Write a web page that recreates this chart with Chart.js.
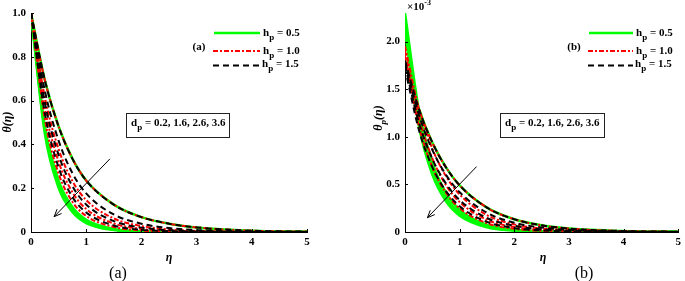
<!DOCTYPE html>
<html>
<head>
<meta charset="utf-8">
<script src="https://cdn.jsdelivr.net/npm/chart.js@4.4.0/dist/chart.umd.min.js"></script>
<style>
body{margin:0;width:685px;height:281px;position:relative;background:#fff;overflow:hidden;font-family:"Liberation Serif","Times New Roman",serif;color:#000;}
canvas{position:absolute;top:0;}
.t{position:absolute;font-weight:bold;font-size:11px;white-space:nowrap;line-height:1;}
.t sub{font-size:9px;vertical-align:-4px;line-height:0;}
.t sup{font-size:8px;vertical-align:5px;line-height:0;}
.c{transform:translate(-50%,-50%);}
.rot{transform:translate(-50%,-50%) rotate(-90deg);font-style:italic;font-size:12px;}
.cap{position:absolute;font-size:16px;transform:translate(-50%,-50%);white-space:nowrap;}
.box{position:absolute;border:1.3px solid #222;box-sizing:border-box;background:#fff;}
</style>
</head>
<body>
<canvas id="chartA" width="340" height="281" style="left:0"></canvas>
<canvas id="chartB" width="342" height="281" style="left:343px"></canvas>

<div class="t rot" style="left:7px;top:122px">θ(η)</div>
<div class="t c" style="left:169px;top:257px;font-style:italic;font-size:12px">η</div>
<div class="cap" style="left:118px;top:273px">(a)</div>
<div class="t c" style="left:199px;top:46px">(a)</div>
<div class="t" style="left:263px;top:27px">h<sub>p</sub> = 0.5</div>
<div class="t" style="left:263px;top:45px">h<sub>p</sub> = 1.0</div>
<div class="t" style="left:262px;top:58px">h<sub>p</sub> = 1.5</div>
<div class="box" style="left:126px;top:113px;width:104px;height:25px"></div>
<div class="t" style="left:131px;top:117px">d<sub>p</sub> = 0.2, 1.6, 2.6, 3.6</div>

<div class="t rot" style="left:378px;top:118px">θ<sub>p</sub>(η)</div>
<div class="t" style="left:407px;top:1px">×10<sup>-3</sup></div>
<div class="t c" style="left:543px;top:257px;font-style:italic;font-size:12px">η</div>
<div class="cap" style="left:584px;top:273px">(b)</div>
<div class="t c" style="left:574px;top:46px">(b)</div>
<div class="t" style="left:636px;top:27px">h<sub>p</sub> = 0.5</div>
<div class="t" style="left:636px;top:45px">h<sub>p</sub> = 1.0</div>
<div class="t" style="left:635px;top:58px">h<sub>p</sub> = 1.5</div>
<div class="box" style="left:500px;top:113px;width:105px;height:25px"></div>
<div class="t" style="left:505px;top:117px">d<sub>p</sub> = 0.2, 1.6, 2.6, 3.6</div>

<script>
// eta grid (x values)
const eta = [0, 0.25, 0.5, 0.75, 1, 1.5, 2, 2.5, 3, 4, 5];

// (a) theta(eta), d_p = 0.2 curve is the same for every h_p
const thA_d02     = [1, 0.694, 0.482, 0.335, 0.235, 0.125, 0.068, 0.038, 0.021, 0.006, 0.0015];
const thA_h15_d16 = [1, 0.646, 0.417, 0.269, 0.176, 0.080, 0.038, 0.018, 0.009, 0.002, 0.0005];
const thA_h10_d16 = [1, 0.616, 0.379, 0.233, 0.146, 0.062, 0.027, 0.012, 0.005, 0.001, 0.0002];
const thA_h15_d26 = [1, 0.593, 0.352, 0.209, 0.126, 0.050, 0.020, 0.008, 0.003, 0.0005, 0.0001];
const thA_h10_d26 = [1, 0.567, 0.321, 0.182, 0.105, 0.039, 0.014, 0.005, 0.002, 0.0003, 0];
const thA_h15_d36 = [1, 0.543, 0.295, 0.160, 0.089, 0.030, 0.010, 0.0035, 0.0012, 0.0002, 0];
const thA_h10_d36 = [1, 0.517, 0.267, 0.138, 0.073, 0.023, 0.007, 0.002, 0.0007, 0.0001, 0];
const thA_h05_d16 = [1, 0.484, 0.235, 0.114, 0.056, 0.014, 0.0035, 0.0009, 0.0002, 0, 0];
const thA_h05_d26 = [1, 0.467, 0.218, 0.102, 0.048, 0.011, 0.0025, 0.0006, 0.0001, 0, 0];
const thA_h05_d36 = [1, 0.449, 0.202, 0.091, 0.041, 0.0085, 0.0018, 0.0004, 0.0001, 0, 0];

// (b) theta_p(eta), in units of 1e-3
const thB_d02     = [1.80, 1.30, 0.94, 0.679, 0.49, 0.256, 0.134, 0.070, 0.036, 0.010, 0.003];
const thB_h15_d16 = [1.78, 1.24, 0.862, 0.600, 0.418, 0.202, 0.098, 0.047, 0.023, 0.005, 0.001];
const thB_h10_d16 = [1.95, 1.307, 0.876, 0.587, 0.394, 0.177, 0.080, 0.036, 0.016, 0.003, 0.001];
const thB_h15_d26 = [1.75, 1.159, 0.767, 0.508, 0.336, 0.147, 0.065, 0.028, 0.012, 0.002, 0];
const thB_h10_d26 = [1.90, 1.212, 0.773, 0.492, 0.314, 0.128, 0.052, 0.021, 0.009, 0.001, 0];
const thB_h15_d36 = [1.72, 1.083, 0.682, 0.430, 0.270, 0.107, 0.042, 0.017, 0.007, 0.001, 0];
const thB_h10_d36 = [1.85, 1.122, 0.681, 0.413, 0.250, 0.092, 0.034, 0.012, 0.005, 0.001, 0];
const thB_h05_d16 = [2.30, 1.294, 0.728, 0.410, 0.231, 0.073, 0.023, 0.007, 0.002, 0, 0];
const thB_h05_d26 = [2.20, 1.207, 0.663, 0.364, 0.200, 0.060, 0.018, 0.005, 0.001, 0, 0];
const thB_h05_d36 = [2.10, 1.124, 0.602, 0.322, 0.172, 0.049, 0.014, 0.004, 0.001, 0, 0];

const yTicksA = [0, 0.2, 0.4, 0.6, 0.8, 1];
const yTicksB = [0, 0.5, 1, 1.5, 2];

const styles = {
    h05: {color: '#00ff00', dash: [], width: 2.5},
    h10: {color: '#ff0000', dash: [5, 2, 2, 2], width: 2},
    h15: {color: '#000000', dash: [6, 4], width: 2}
};

function line(vals, key) {
    let s = styles[key];
    return {
        data: eta.map((x, i) => ({x: x, y: vals[i]})),
        borderColor: s.color,
        borderDash: s.dash,
        borderWidth: s.width,
        pointRadius: 0,
        fill: false,
        cubicInterpolationMode: 'monotone'
    };
}

// first dataset is drawn on top
let setsA = [
    line(thA_d02, 'h15'), line(thA_h15_d16, 'h15'), line(thA_h15_d26, 'h15'), line(thA_h15_d36, 'h15'),
    line(thA_d02, 'h10'), line(thA_h10_d16, 'h10'), line(thA_h10_d26, 'h10'), line(thA_h10_d36, 'h10'),
    line(thA_d02, 'h05'), line(thA_h05_d16, 'h05'), line(thA_h05_d26, 'h05'), line(thA_h05_d36, 'h05')
];
let setsB = [
    line(thB_d02, 'h15'), line(thB_h15_d16, 'h15'), line(thB_h15_d26, 'h15'), line(thB_h15_d36, 'h15'),
    line(thB_d02, 'h10'), line(thB_h10_d16, 'h10'), line(thB_h10_d26, 'h10'), line(thB_h10_d36, 'h10'),
    line(thB_d02, 'h05'), line(thB_h05_d16, 'h05'), line(thB_h05_d26, 'h05'), line(thB_h05_d36, 'h05')
];

// inward tick marks, arrow and legend key lines
const extras = {
    id: 'extras',
    afterDraw(chart, args, opts) {
        const ctx = chart.ctx;
        const xs = chart.scales.x, ys = chart.scales.y;
        const area = chart.chartArea;
        ctx.save();
        ctx.strokeStyle = '#000';
        ctx.lineWidth = 1;
        ctx.setLineDash([]);
        ctx.beginPath();
        xs.ticks.forEach(t => {
            let px = Math.round(xs.getPixelForValue(t.value)) + 0.5;
            ctx.moveTo(px, area.bottom);
            ctx.lineTo(px, area.bottom - 3);
        });
        opts.yTicks.forEach(v => {
            let py = Math.round(ys.getPixelForValue(v)) + 0.5;
            ctx.moveTo(area.left, py);
            ctx.lineTo(area.left + 3, py);
        });
        ctx.stroke();

        // arrow in data coordinates
        let x1 = xs.getPixelForValue(opts.arrow[0]), y1 = ys.getPixelForValue(opts.arrow[1]);
        let x2 = xs.getPixelForValue(opts.arrow[2]), y2 = ys.getPixelForValue(opts.arrow[3]);
        let a = Math.atan2(y2 - y1, x2 - x1);
        ctx.beginPath();
        ctx.moveTo(x1, y1);
        ctx.lineTo(x2, y2);
        ctx.moveTo(x2 - 8 * Math.cos(a - 0.4), y2 - 8 * Math.sin(a - 0.4));
        ctx.lineTo(x2, y2);
        ctx.lineTo(x2 - 8 * Math.cos(a + 0.4), y2 - 8 * Math.sin(a + 0.4));
        ctx.stroke();

        // legend key lines
        opts.keys.forEach(k => {
            let s = styles[k.key];
            ctx.beginPath();
            ctx.strokeStyle = s.color;
            ctx.lineWidth = s.width;
            ctx.setLineDash(s.dash);
            ctx.moveTo(k.x1, k.y);
            ctx.lineTo(k.x2, k.y);
            ctx.stroke();
        });
        ctx.restore();
    }
};

const tickFont = {family: '"Liberation Serif", "Times New Roman", serif', size: 11, weight: 'bold'};

function createChart(id, sets, yMax, yStep, yTicks, yWidth, padRight, arrow, keys) {
    return new Chart(document.getElementById(id), {
        type: 'line',
        data: {datasets: sets},
        options: {
            responsive: false,
            animation: false,
            layout: {padding: {top: 13, right: padRight, left: 0, bottom: 0}},
            plugins: {
                legend: {display: false},
                tooltip: {enabled: false},
                extras: {yTicks: yTicks, arrow: arrow, keys: keys}
            },
            scales: {
                x: {
                    type: 'linear', min: 0, max: 5,
                    ticks: {stepSize: 1, font: tickFont, color: '#000', padding: 4, maxRotation: 0},
                    grid: {drawOnChartArea: false, drawTicks: false},
                    border: {color: '#000', width: 1},
                    afterFit: function (s) { s.height = 49; }
                },
                y: {
                    type: 'linear', min: 0, max: yMax,
                    ticks: {stepSize: yStep, font: tickFont, color: '#000', padding: 5},
                    afterBuildTicks: function (s) { s.ticks = s.ticks.filter(t => yTicks.some(v => Math.abs(v - t.value) < 1e-6)); },
                    grid: {drawOnChartArea: false, drawTicks: false},
                    border: {color: '#000', width: 1},
                    afterFit: function (s) { s.width = yWidth; }
                }
            }
        },
        plugins: [extras]
    });
}

createChart('chartA', setsA, 1, 0.2, yTicksA, 31, 33, [1.43, 0.334, 0.42, 0.07], [
    {key: 'h05', x1: 214, x2: 260, y: 33},
    {key: 'h10', x1: 213, x2: 260, y: 51},
    {key: 'h15', x1: 213, x2: 260, y: 65.5}
]);
createChart('chartB', setsB, 2.3, 0.5, yTicksB, 62, 3, [1.31, 0.687, 0.41, 0.15], [
    {key: 'h05', x1: 246, x2: 290, y: 33},
    {key: 'h10', x1: 245, x2: 290, y: 51},
    {key: 'h15', x1: 245, x2: 290, y: 65.5}
]);
</script>
</body>
</html>
